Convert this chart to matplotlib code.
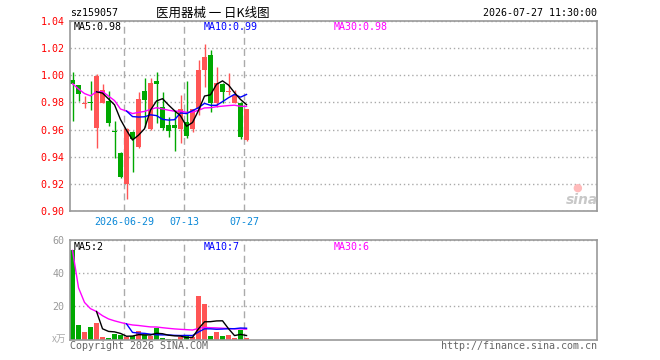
import matplotlib
matplotlib.use("Agg")
import matplotlib.pyplot as plt
import numpy as np
import pandas as pd

# daily candles, 30 sessions ending 2026-07-27
opens = [0.9965, 0.9928, 0.9786, 0.9800, 0.9614, 0.9798, 0.9810, 0.9589, 0.9429, 0.9199,
         0.9580, 0.9474, 0.9884, 0.9602, 0.9960, 0.9766, 0.9634, 0.9634, 0.9602, 0.9653,
         0.9602, 0.9752, 1.0039, 1.0149, 0.9798, 0.9936, 0.9875, 0.9798, 0.9798, 0.9523]
highs = [1.0024, 0.9928, 0.9845, 0.9958, 1.0012, 0.9936, 0.9884, 0.9663, 0.9435, 0.9610,
         0.9590, 0.9879, 0.9982, 0.9980, 1.0024, 0.9877, 0.9693, 0.9739, 0.9855, 0.9958,
         0.9755, 1.0113, 1.0231, 1.0186, 1.0059, 0.9940, 1.0015, 0.9892, 0.9800, 0.9755]
lows = [0.9665, 0.9810, 0.9757, 0.9744, 0.9466, 0.9798, 0.9628, 0.9393, 0.9243, 0.9088,
        0.9287, 0.9462, 0.9621, 0.9600, 0.9646, 0.9597, 0.9547, 0.9444, 0.9501, 0.9540,
        0.9584, 0.9707, 0.9916, 0.9732, 0.9768, 0.9794, 0.9855, 0.9795, 0.9528, 0.9516]
closes = [0.9938, 0.9860, 0.9798, 0.9798, 0.9997, 0.9890, 0.9646, 0.9582, 0.9253, 0.9604,
          0.9530, 0.9825, 0.9818, 0.9943, 0.9938, 0.9614, 0.9592, 0.9609, 0.9752, 0.9555,
          0.9752, 1.0039, 1.0137, 0.9798, 0.9941, 0.9879, 0.9886, 0.9855, 0.9547, 0.9752]
# volume in 万
volumes = [53.7, 8.7, 4.6, 7.3, 10.1, 1.6, 0.8, 3.2, 2.6, 1.6,
           2.2, 5.0, 2.6, 2.2, 6.8, 0.8, 0.6, 0.6, 1.6, 2.2,
           1.6, 26.4, 21.6, 2.0, 4.4, 2.0, 2.6, 0.8, 5.6, 1.0]
date_ticks = [9, 19, 29]
date_labels = ["2026-06-29", "07-13", "07-27"]
price_ticks = [0.90, 0.92, 0.94, 0.96, 0.98, 1.00, 1.02, 1.04]
vol_ticks = [20, 40, 60]

RED = "#ff5555"
GREEN = "#00a800"
GRID = "#aaaaaa"
FRAME = "#999999"
MONO = "DejaVu Sans Mono"

df = pd.DataFrame({"o": opens, "h": highs, "l": lows, "c": closes, "v": volumes})
x = np.arange(len(df))
up = df.c >= df.o
colors = np.where(up, RED, GREEN)

W, H = 660, 360
fig = plt.figure(figsize=(6.6, 3.6), dpi=100)


def px(xp, yp):
    return xp / W, 1 - yp / H


xmin = -0.42
xmax = xmin + 527 / 6
ax = fig.add_axes([70 / W, 1 - 211 / H, 527 / W, 190 / H])
axv = fig.add_axes([70 / W, 1 - 339.5 / H, 527 / W, 99.5 / H])

for a in (ax, axv):
    a.set_xlim(xmin, xmax)
    for s in a.spines.values():
        s.set_color(FRAME)
        s.set_linewidth(1.2)
    a.set_xticks([t - 0.4 for t in date_ticks])
    a.grid(True, axis="x", color=GRID, linestyle=(0, (5, 3)), linewidth=1)
    a.grid(True, axis="y", color=GRID, linestyle=(0, (1, 2)), linewidth=1)
    a.set_axisbelow(True)
    a.tick_params(length=0)

# candles
ax.vlines(x, df.l, df.h, colors=colors, linewidth=1)
body = np.maximum((df.c - df.o).abs(), 0.0006)
ax.bar(x, body, bottom=np.minimum(df.o, df.c), width=0.82, color=colors, linewidth=0)
ma5 = df.c.rolling(5).mean()
ma10 = df.c.rolling(10).mean()
ma30 = df.c.rolling(30, min_periods=1).mean()
ax.plot(x, ma30, color="#ff00ff", lw=1)
ax.plot(x, ma10, color="#0000ff", lw=1)
ax.plot(x, ma5, color="black", lw=1)
ax.set_ylim(0.90, 1.04)
ax.set_yticks(price_ticks)
ax.set_yticklabels([f"{t:.2f}" for t in price_ticks], family=MONO, fontsize=7.2, color="red")
ax.tick_params(axis="y", pad=4)
ax.set_xticklabels(date_labels, family=MONO, fontsize=7.2, color="#0a88d8")
ax.tick_params(axis="x", pad=4)

# volume
axv.bar(x, df.v, width=0.82, color=colors, linewidth=0)
axv.plot(x, df.v.rolling(30, min_periods=1).mean(), color="#ff00ff", lw=1)
axv.plot(x, df.v.rolling(10).mean(), color="#0000ff", lw=1)
axv.plot(x, df.v.rolling(5).mean(), color="black", lw=1)
axv.set_ylim(0, 60)
axv.set_yticks(vol_ticks)
axv.set_yticklabels([str(t) for t in vol_ticks], family=MONO, fontsize=7.2, color=FRAME)
axv.tick_params(axis="y", pad=4)
axv.set_xticklabels([])

# header texts
fig.text(*px(70, 13), "sz159057", family=MONO, fontsize=7.2, va="center")
fig.text(*px(213, 13), "医用器械 一 日K线图", family=["Noto Sans CJK SC", "DejaVu Sans"],
         fontsize=9, va="center", ha="center")
fig.text(*px(597, 13), "2026-07-27 11:30:00", family=MONO, fontsize=7.2, va="center", ha="right")

fig.text(*px(74, 27), f"MA5:{ma5.iloc[-1]:.2f}", family=MONO, fontsize=7.2, va="center")
fig.text(*px(204, 27), f"MA10:{ma10.iloc[-1]:.2f}", family=MONO, fontsize=7.2, va="center",
         color="#0000ff")
fig.text(*px(334, 27), f"MA30:{ma30.iloc[-1]:.2f}", family=MONO, fontsize=7.2, va="center",
         color="#ff00ff")

fig.text(*px(74, 247), f"MA5:{df.v.rolling(5).mean().iloc[-1]:.0f}", family=MONO, fontsize=7.2,
         va="center")
fig.text(*px(204, 247), f"MA10:{df.v.rolling(10).mean().iloc[-1]:.0f}", family=MONO, fontsize=7.2,
         va="center", color="#0000ff")
fig.text(*px(334, 247), f"MA30:{df.v.rolling(30, min_periods=1).mean().iloc[-1]:.0f}", family=MONO,
         fontsize=7.2, va="center", color="#ff00ff")

fig.text(*px(66, 339), "x万", family=["Noto Sans CJK SC", "DejaVu Sans"], fontsize=7,
         va="center", ha="right", color="#aaaaaa", style="italic")
fig.text(*px(70, 346), "Copyright 2026 SINA.COM", family=MONO, fontsize=7.2, va="center",
         color="#666666")
fig.text(*px(597, 346), "http://finance.sina.com.cn", family=MONO, fontsize=7.2, va="center",
         ha="right", color="#666666")

# sina watermark
fig.text(*px(577, 188), "●", fontsize=8, color="#ffbbbb", ha="center", va="center")
fig.text(*px(582, 200), "sina", fontsize=10, color="#c8c8c8", ha="center", va="center",
         style="italic", weight="bold")

fig.savefig("out.png", dpi=100)
